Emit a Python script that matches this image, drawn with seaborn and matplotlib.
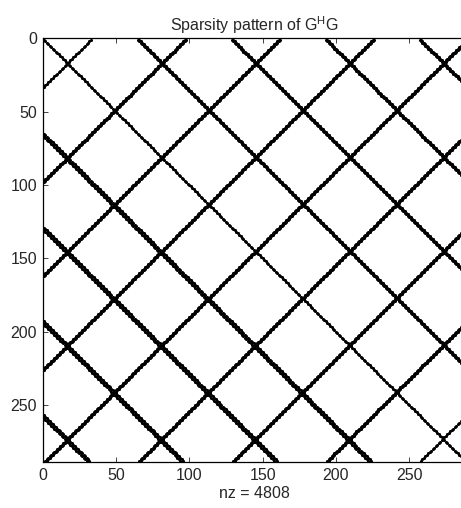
import numpy as np
import pandas as pd
import matplotlib
matplotlib.use("Agg")
import matplotlib.pyplot as plt
import seaborn as sns

# Matrix order and nonzero layout of G^H G (1-based row/column indices)
n = 288
upper_offsets = [64, 65, 128, 129, 192, 193, 256, 257]     # j - i on the upper side
lower_offsets = [64, 66, 128, 130, 192, 194, 256, 258]     # i - j on the lower side
anti_sums = [34, 98, 99, 162, 163, 226, 227, 290, 291,
             354, 355, 418, 419, 482, 483, 546]              # i + j
tick_values = [0, 50, 100, 150, 200, 250]

rows, cols = np.indices((n, n)) + 1
diff = cols - rows
mask = (diff == 0)
mask |= np.isin(diff, upper_offsets)
mask |= np.isin(-diff, lower_offsets)
mask |= np.isin(rows + cols, anti_sums)
r, c = np.nonzero(mask)
pattern = pd.DataFrame({"col": c + 1, "row": r + 1})

sns.set_style("white")
plt.rcParams["font.family"] = ["Liberation Sans", "DejaVu Sans"]
plt.rcParams["mathtext.fontset"] = "custom"
plt.rcParams["mathtext.rm"] = "Liberation Sans"

fig = plt.figure(figsize=(4.61, 5.08), dpi=100)
ax = fig.add_axes([42.5 / 461, (508 - 462.3) / 508, 424 / 461, 424 / 508])

sns.scatterplot(data=pattern, x="col", y="row", ax=ax, color="black",
                marker="o", s=5.0, linewidth=0, legend=False)

ax.set_xlim(0, n + 1)
ax.set_ylim(n + 1, 0)
ax.set_xticks(tick_values)
ax.set_yticks(tick_values)
ax.tick_params(direction="in", length=3.5, width=0.6, labelsize=11.5,
               top=True, right=True, bottom=True, left=True, pad=4)
for sp in ax.spines.values():
    sp.set_linewidth(0.9)
    sp.set_color("black")
ax.set_xlabel(f"nz = {len(pattern)}", fontsize=11.5, labelpad=2)
ax.set_ylabel("")
ax.set_title(r"Sparsity pattern of G$^{\mathrm{H}}$G", fontsize=11.5, pad=5)

fig.savefig("out.png", dpi=100)
